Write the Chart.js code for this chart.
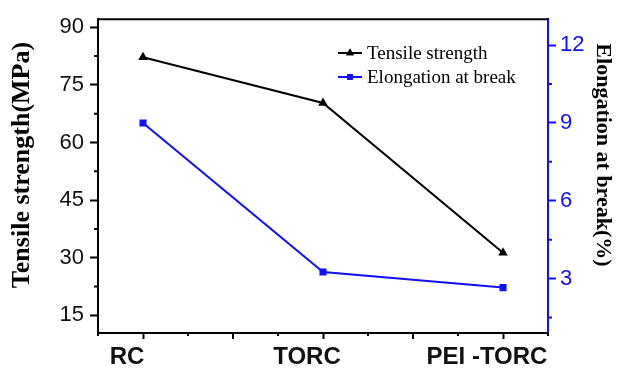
<!DOCTYPE html>
<html>
<head>
<meta charset="utf-8">
<script src="https://cdn.jsdelivr.net/npm/chart.js"></script>
<style>
  body { margin: 0; background: #fff; }
  canvas { display: block; }
</style>
</head>
<body>
<canvas id="chart" width="618" height="369"></canvas>
<script>
// samples and measured values
var categories = ["RC", "TORC", "PEI -TORC"];
var tensileStrength = [82.2, 70.3, 31.3];      // MPa
var elongationAtBreak = [9.0, 3.25, 2.65];     // %

// axis ticks
var tensileTicks = [15, 30, 45, 60, 75, 90];
var tensileMinor = [22.5, 37.5, 52.5, 67.5, 82.5];
var elongationTicks = [3, 6, 9, 12];
var elongationMinor = [1.5, 4.5, 7.5, 10.5];
var sampleTicks = [0, 1, 2];
var sampleMinor = [-0.25, 0.25, 0.5, 0.75, 1.25, 1.5, 1.75, 2.25];

var BLUE = "#1010ff";

function toPoints(values) {
    var pts = [];
    for (var i = 0; i < values.length; i++) {
        pts.push({x: i, y: values[i]});
    }
    return pts;
}

function setTicks(list) {
    return function(scale) {
        scale.ticks = list.map(function(v) { return {value: v}; });
    };
}

// short minor ticks, drawn outside the plot box
var minorTicks = {
    id: "minorTicks",
    afterDraw: function(chart) {
        var ctx = chart.ctx;
        var a = chart.chartArea;
        ctx.save();
        ctx.lineWidth = 2;
        ctx.strokeStyle = "#000";
        ctx.beginPath();
        tensileMinor.forEach(function(v) {
            var y = chart.scales.y.getPixelForValue(v);
            ctx.moveTo(a.left, y); ctx.lineTo(a.left - 4, y);
        });
        sampleMinor.forEach(function(v) {
            var x = chart.scales.x.getPixelForValue(v);
            var len = (v * 2) % 1 === 0 ? 6 : 3;
            ctx.moveTo(x, a.bottom); ctx.lineTo(x, a.bottom + len);
        });
        ctx.stroke();
        ctx.strokeStyle = BLUE;
        ctx.beginPath();
        elongationMinor.forEach(function(v) {
            var y = chart.scales.y1.getPixelForValue(v);
            ctx.moveTo(a.right, y); ctx.lineTo(a.right + 4, y);
        });
        ctx.stroke();
        // top frame line
        ctx.strokeStyle = "#000";
        ctx.beginPath();
        ctx.moveTo(a.left - 1, a.top); ctx.lineTo(a.right, a.top);
        ctx.stroke();
        ctx.restore();
    }
};

// axis titles and the legend box inside the plot
var decorations = {
    id: "decorations",
    afterDraw: function(chart) {
        var ctx = chart.ctx;
        ctx.save();
        ctx.fillStyle = "#000";
        ctx.textAlign = "center";
        ctx.textBaseline = "middle";

        ctx.save();
        ctx.translate(22, 165);
        ctx.rotate(-Math.PI / 2);
        ctx.font = "bold 26px 'Liberation Serif'";
        ctx.fillText("Tensile strength(MPa)", 0, 0);
        ctx.restore();

        ctx.save();
        ctx.translate(603, 155);
        ctx.rotate(Math.PI / 2);
        ctx.font = "bold 22px 'Liberation Serif'";
        ctx.fillText("Elongation at break(%)", 0, 0);
        ctx.restore();

        var rows = [53, 77];
        chart.data.datasets.forEach(function(ds, i) {
            var y = rows[i];
            ctx.strokeStyle = ds.borderColor;
            ctx.fillStyle = ds.borderColor;
            ctx.lineWidth = 2;
            ctx.beginPath();
            ctx.moveTo(338, y); ctx.lineTo(362, y);
            ctx.stroke();
            Chart.helpers.drawPoint(ctx, {pointStyle: ds.pointStyle, radius: ds.pointRadius - 1, rotation: 0, borderWidth: 0}, 350, y);
            ctx.fill();
            ctx.fillStyle = "#000";
            ctx.textAlign = "left";
            ctx.font = "19px 'Liberation Serif'";
            ctx.fillText(ds.label, 367, y + 1);
        });
        ctx.restore();
    }
};

new Chart(document.getElementById("chart"), {
    type: "line",
    data: {
        datasets: [{
            label: "Tensile strength",
            data: toPoints(tensileStrength),
            yAxisID: "y",
            borderColor: "#000",
            backgroundColor: "#000",
            borderWidth: 2,
            pointStyle: "triangle",
            pointRadius: 5.5,
            pointBorderWidth: 0
        }, {
            label: "Elongation at break",
            data: toPoints(elongationAtBreak),
            yAxisID: "y1",
            borderColor: BLUE,
            backgroundColor: BLUE,
            borderWidth: 2,
            pointStyle: "rect",
            pointRadius: 5,
            pointBorderWidth: 0
        }]
    },
    options: {
        responsive: false,
        animation: false,
        devicePixelRatio: 1,
        layout: {padding: {top: 14, left: 0, right: 0, bottom: 0}},
        plugins: {legend: {display: false}, tooltip: {enabled: false}},
        scales: {
            x: {
                type: "linear",
                min: -0.25,
                max: 2.25,
                afterBuildTicks: setTicks(sampleTicks),
                afterFit: function(s) { s.height = 36; },
                border: {color: "#000", width: 2},
                grid: {drawOnChartArea: false, tickLength: 6, tickWidth: 2, tickColor: "#000"},
                ticks: {
                    color: "#111",
                    font: {family: "'Liberation Sans'", size: 24, weight: "bold"},
                    padding: 4,
                    labelOffset: -16,
                    maxRotation: 0,
                    callback: function(v) { return categories[v]; }
                }
            },
            y: {
                position: "left",
                min: 10.4,
                max: 92.1,
                afterBuildTicks: setTicks(tensileTicks),
                afterFit: function(s) { s.width = 98; },
                border: {color: "#000", width: 2},
                grid: {drawOnChartArea: false, tickLength: 8, tickWidth: 2, tickColor: "#000"},
                ticks: {
                    color: "#111",
                    font: {family: "'Liberation Sans'", size: 22},
                    padding: 6
                }
            },
            y1: {
                position: "right",
                min: 0.9,
                max: 13,
                afterBuildTicks: setTicks(elongationTicks),
                afterFit: function(s) { s.width = 70; },
                border: {color: BLUE, width: 2},
                grid: {drawOnChartArea: false, tickLength: 8, tickWidth: 2, tickColor: BLUE},
                ticks: {
                    color: BLUE,
                    font: {family: "'Liberation Sans'", size: 22},
                    padding: 4
                }
            }
        }
    },
    plugins: [minorTicks, decorations]
});
</script>
</body>
</html>
